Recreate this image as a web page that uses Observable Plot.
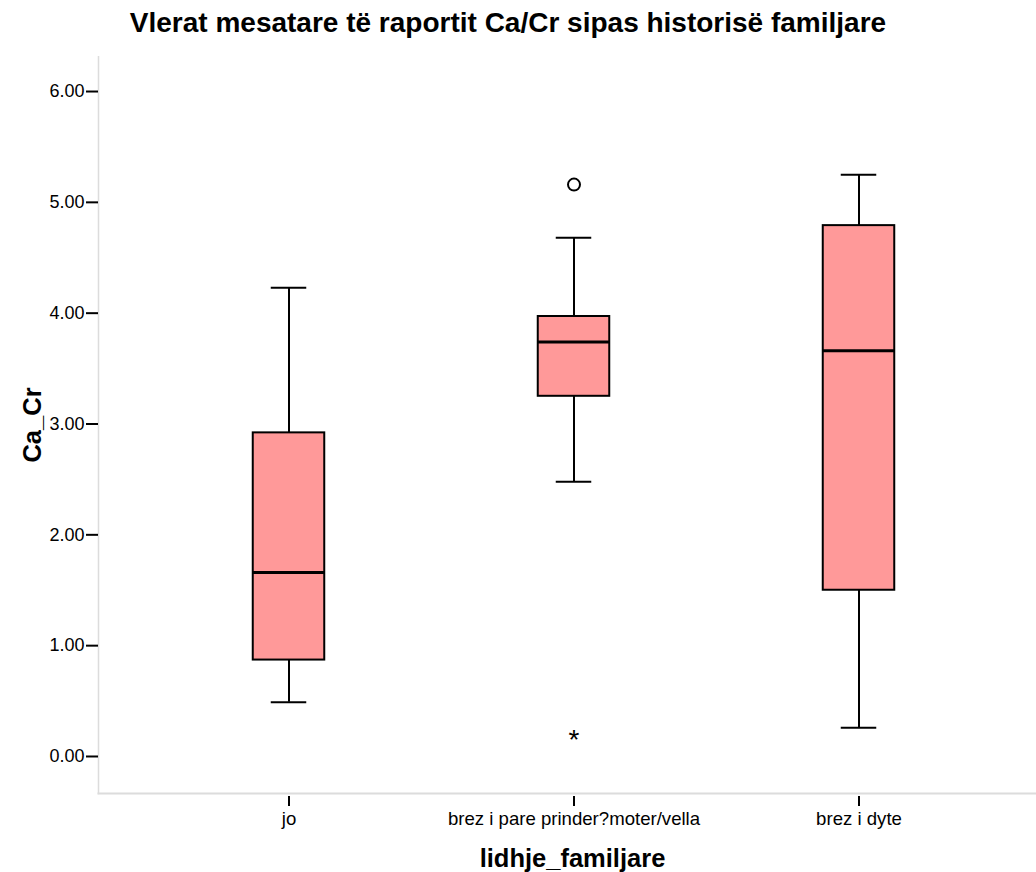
<!DOCTYPE html>
<html>
<head>
<meta charset="utf-8">
<script src="https://cdn.jsdelivr.net/npm/d3@7"></script>
<script src="https://cdn.jsdelivr.net/npm/@observablehq/plot@0.6"></script>
<style>
  body { margin: 0; background: #fff; font-family: "Liberation Sans", Arial, sans-serif; }
  #wrap { position: relative; width: 1036px; height: 872px; }
  #title { position: absolute; top: 7px; left: 0; width: 1016px; text-align: center; font-size: 28px; font-weight: bold; color: #000; line-height: normal; }
  #chart { position: absolute; top: 56px; left: 0; }
</style>
</head>
<body>
<div id="wrap">
  <div id="title">Vlerat mesatare të raportit Ca/Cr sipas historisë familjare</div>
  <div id="chart"></div>
</div>
<script>
const categories = ["jo", "brez i pare prinder?moter/vella", "brez i dyte"];
const whiskerLow = [0.49, 2.48, 0.26];
const q1 = [0.87, 3.25, 1.50];
const median = [1.66, 3.74, 3.66];
const q3 = [2.92, 3.97, 4.79];
const whiskerHigh = [4.23, 4.68, 5.25];
const outlierCategory = ["brez i pare prinder?moter/vella"];
const outlierValue = [5.16];
const extremeCategory = ["brez i pare prinder?moter/vella"];
const extremeValue = [0.19];
const yTicks = [0, 1, 2, 3, 4, 5, 6];
const xTitle = "lidhje_familjare";
const yTitle = "Ca_Cr";

const boxes = categories.map((c, i) => ({
  cat: c, lo: whiskerLow[i], q1: q1[i], med: median[i], q3: q3[i], hi: whiskerHigh[i]
}));
const outliers = outlierCategory.map((c, i) => ({cat: c, v: outlierValue[i]}));
const extremes = extremeCategory.map((c, i) => ({cat: c, v: extremeValue[i]}));

const boxInset = 106.75;
const capInset = 124.75;

const chart = Plot.plot({
  width: 1036,
  height: 816,
  marginLeft: 98,
  marginRight: 0,
  marginTop: 0,
  marginBottom: 79,
  style: {fontFamily: "'Liberation Sans', Arial, sans-serif", background: "#fff", color: "#000"},
  x: {domain: categories, range: [145.25, 1001.75], padding: 0, axis: null},
  y: {domain: [-0.334, 6.316], range: [737, 0], axis: null},
  marks: [
    Plot.frame({anchor: "left", stroke: "#dcdcdc", strokeWidth: 1.5}),
    Plot.frame({anchor: "bottom", stroke: "#dcdcdc", strokeWidth: 2}),
    Plot.axisY(yTicks, {tickSize: 12, tickPadding: 2, strokeWidth: 2, fontSize: 18, tickFormat: d => d.toFixed(2), label: null}),
    Plot.axisX(categories, {tickSize: 10, tickPadding: 5, dy: 3, strokeWidth: 2, fontSize: 18.6, label: null}),
    Plot.ruleX(boxes, {x: "cat", y1: "lo", y2: "q1", stroke: "#000", strokeWidth: 2}),
    Plot.ruleX(boxes, {x: "cat", y1: "q3", y2: "hi", stroke: "#000", strokeWidth: 2}),
    Plot.tickY(boxes, {x: "cat", y: "lo", stroke: "#000", strokeWidth: 2, insetLeft: capInset, insetRight: capInset}),
    Plot.tickY(boxes, {x: "cat", y: "hi", stroke: "#000", strokeWidth: 2, insetLeft: capInset, insetRight: capInset}),
    Plot.barY(boxes, {x: "cat", y1: "q1", y2: "q3", fill: "#ff9999", stroke: "#000", strokeWidth: 2, insetLeft: boxInset, insetRight: boxInset}),
    Plot.tickY(boxes, {x: "cat", y: "med", stroke: "#000", strokeWidth: 3, insetLeft: boxInset, insetRight: boxInset}),
    Plot.dot(outliers, {x: "cat", y: "v", r: 6, stroke: "#000", strokeWidth: 2, fill: "none"}),
    Plot.text(extremes, {x: "cat", y: "v", text: () => "*", fontSize: 28, dy: 5, fill: "#000"}),
    Plot.text([xTitle], {frameAnchor: "bottom", text: d => d, dy: 65, dx: 5, fontSize: 25.5, fontWeight: "bold", fill: "#000", lineAnchor: "middle"}),
    Plot.text([yTitle], {frameAnchor: "left", textAnchor: "middle", text: d => d, dx: -66, rotate: -90, fontSize: 25.5, fontWeight: "bold", fill: "#000", lineAnchor: "middle"})
  ]
});
document.getElementById("chart").appendChild(chart);
</script>
</body>
</html>
